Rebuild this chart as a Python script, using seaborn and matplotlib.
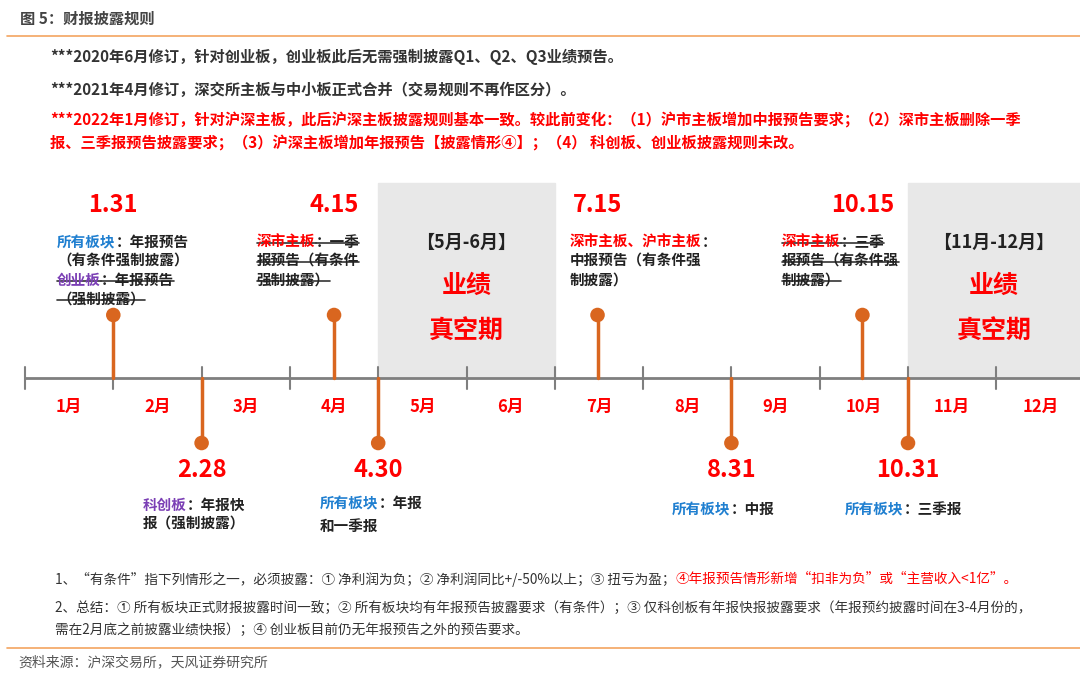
import pandas as pd
import matplotlib.pyplot as plt
import seaborn as sns

sns.set_theme(style='white')
plt.rcParams['font.family'] = ['Noto Sans CJK SC', 'DejaVu Sans']

# month labels and event data
months = ['1月', '2月', '3月', '4月', '5月', '6月', '7月', '8月', '9月', '10月', '11月', '12月']
event_labels = ['1.31', '2.28', '4.15', '4.30', '7.15', '8.31', '10.15', '10.31']
event_month = [1, 2, 4, 4, 7, 8, 10, 10]
event_day = [31, 28, 15, 30, 15, 31, 15, 31]
event_days_in_month = [31, 28, 30, 30, 31, 31, 31, 31]
event_side = ['up', 'down', 'up', 'down', 'up', 'down', 'up', 'down']
vacuum_ranges = [(5, 6, '【5月-6月】'), (11, 12, '【11月-12月】')]

RED = '#ff0000'
BLUE = '#1f7fd0'
PURPLE = '#7b3fb5'
BLACK = '#222222'
ORANGE = '#d9661f'

X0, MW, AXIS_Y = 25, 88.3, 378

fig = plt.figure(figsize=(10.8, 6.77), dpi=100)
ax = fig.add_axes([0, 0, 1, 1])
ax.set_xlim(0, 1080)
ax.set_ylim(677, 0)
ax.axis('off')
renderer = fig.canvas.get_renderer()


def segs(x, y, parts, size=10.5, weight='bold'):
    # draw text pieces one after another; parts = (text, color, strike)
    for text, color, strike in parts:
        t = ax.text(x, y, text, color=color, fontsize=size, fontweight=weight, va='center', ha='left')
        w = t.get_window_extent(renderer).width
        if strike:
            ax.plot([x, x + w], [y + 1, y + 1], color='#333333', lw=1.2)
        x += w


# header
ax.text(20, 19, '图 5：财报披露规则', fontsize=11, fontweight='bold', color='#444444', va='center')
ax.plot([7, 1080], [36, 36], color='#f4a460', lw=1.2)
segs(50, 57, [('***2020年6月修订，针对创业板，创业板此后无需强制披露Q1、Q2、Q3业绩预告。', '#333333', False)], size=11)
segs(50, 90, [('***2021年4月修订，深交所主板与中小板正式合并（交易规则不再作区分）。', '#333333', False)], size=11)
segs(50, 121, [('***2022年1月修订，针对沪深主板，此后沪深主板披露规则基本一致。较此前变化：（1）沪市主板增加中报预告要求；（2）深市主板删除一季', RED, False)], size=11)
segs(50, 144, [('报、三季报预告披露要求；（3）沪深主板增加年报预告【披露情形④】；（4） 科创板、创业板披露规则未改。', RED, False)], size=11)

# vacuum periods
for m0, m1, label in vacuum_ranges:
    xa = X0 + (m0 - 1) * MW
    xb = min(X0 + m1 * MW, 1080)
    ax.add_patch(plt.Rectangle((xa, 183), xb - xa, AXIS_Y - 183, color='#e8e8e8', zorder=0))
    xc = (xa + xb) / 2
    ax.text(xc, 242, label, fontsize=13, fontweight='bold', color=BLACK, ha='center', va='center')
    ax.text(xc, 286, '业绩', fontsize=18, fontweight='bold', color=RED, ha='center', va='center')
    ax.text(xc, 332, '真空期', fontsize=18, fontweight='bold', color=RED, ha='center', va='center')

# timeline axis
ax.plot([X0, 1080], [AXIS_Y, AXIS_Y], color='#7f7f7f', lw=2, zorder=2)
for k in range(13):
    ax.plot([X0 + k * MW] * 2, [AXIS_Y - 11, AXIS_Y + 11], color='#7f7f7f', lw=1.5, zorder=2)
for k, m in enumerate(months):
    ax.text(X0 + (k + 0.5) * MW, 407, m, fontsize=12, fontweight='bold', color=RED, ha='center', va='center')

# events
df = pd.DataFrame({'label': event_labels, 'month': event_month, 'day': event_day,
                   'dim': event_days_in_month, 'side': event_side})
df['x'] = X0 + (df['month'] - 1 + df['day'] / df['dim']) * MW
df['y'] = df['side'].map({'up': 315, 'down': 443})
for _, r in df.iterrows():
    ax.plot([r.x, r.x], [r.y, AXIS_Y], color=ORANGE, lw=2.5, zorder=3)
    ly = 205 if r.side == 'up' else 470
    ax.text(r.x, ly, r.label, fontsize=17, fontweight='bold', color=RED, ha='center', va='center')
sns.scatterplot(data=df, x='x', y='y', color=ORANGE, s=110, edgecolor='none', zorder=4, ax=ax, legend=False)

# annotations
segs(57, 242, [('所有板块', BLUE, False), ('：年报预告', BLACK, False)])
segs(57, 261, [('（有条件强制披露）', BLACK, False)])
segs(57, 280, [('创业板', PURPLE, True), ('：年报预告', BLACK, True)])
segs(57, 299, [('（强制披露）', BLACK, True)])
segs(257, 242, [('深市主板', RED, True), ('：一季', BLACK, True)])
segs(257, 261, [('报预告（有条件', BLACK, True)])
segs(257, 280, [('强制披露）', BLACK, True)])
segs(570, 242, [('深市主板、沪市主板', RED, False), ('：', BLACK, False)])
segs(570, 261, [('中报预告（有条件强', BLACK, False)])
segs(570, 280, [('制披露）', BLACK, False)])
segs(782, 242, [('深市主板', RED, True), ('：三季', BLACK, True)])
segs(782, 261, [('报预告（有条件强', BLACK, True)])
segs(782, 280, [('制披露）', BLACK, True)])
segs(143, 505, [('科创板', PURPLE, False), ('：年报快', BLACK, False)])
segs(143, 523, [('报（强制披露）', BLACK, False)])
segs(320, 503, [('所有板块', BLUE, False), ('：年报', BLACK, False)])
segs(320, 526, [('和一季报', BLACK, False)])
segs(672, 509, [('所有板块', BLUE, False), ('：中报', BLACK, False)])
segs(845, 509, [('所有板块', BLUE, False), ('：三季报', BLACK, False)])

# notes
segs(55, 579, [('1、“有条件”指下列情形之一，必须披露：① 净利润为负；② 净利润同比+/-50%以上；③ 扭亏为盈；', '#333333', False),
               ('④年报预告情形新增“扣非为负”或“主营收入<1亿”。', RED, False)], size=9.8, weight='normal')
segs(55, 608, [('2、总结：① 所有板块正式财报披露时间一致；② 所有板块均有年报预告披露要求（有条件）；③ 仅科创板有年报快报披露要求（年报预约披露时间在3-4月份的，', '#333333', False)], size=9.8, weight='normal')
segs(55, 630, [('需在2月底之前披露业绩快报）；④ 创业板目前仍无年报预告之外的预告要求。', '#333333', False)], size=9.8, weight='normal')
ax.plot([7, 1080], [648, 648], color='#f4a460', lw=1.2)
ax.text(18, 662, '资料来源：沪深交易所，天风证券研究所', fontsize=10, color='#555555', va='center')

plt.savefig('out.png', dpi=100)
